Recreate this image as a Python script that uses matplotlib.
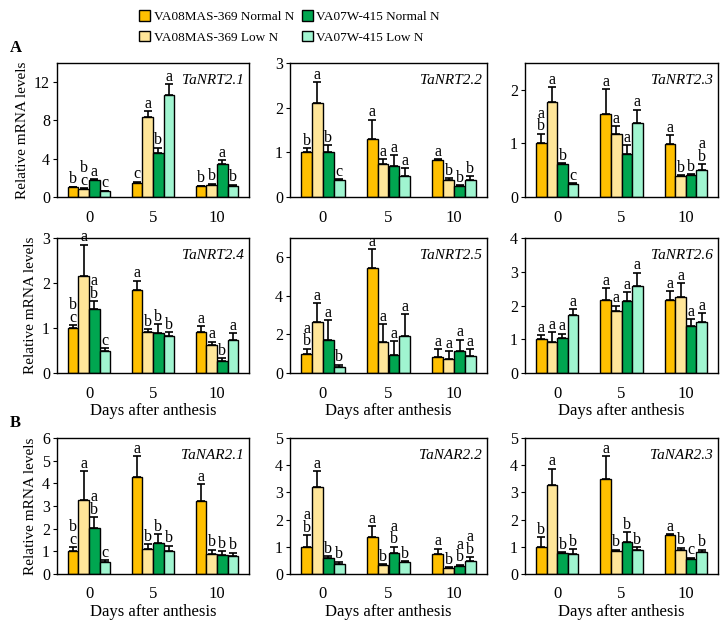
import matplotlib.pyplot as plt
import numpy as np
from matplotlib.patches import Patch

plt.rcParams['font.family'] = ['Liberation Serif', 'DejaVu Serif']
plt.rcParams['font.size'] = 11

days = ['0', '5', '10']
series = ['VA08MAS-369 Normal N', 'VA08MAS-369 Low N', 'VA07W-415 Normal N', 'VA07W-415 Low N']
colors = ['#FFC000', '#FFE699', '#00A650', '#A0F5D0']

genes = ['TaNRT2.1', 'TaNRT2.2', 'TaNRT2.3', 'TaNRT2.4', 'TaNRT2.5', 'TaNRT2.6',
         'TaNAR2.1', 'TaNAR2.2', 'TaNAR2.3']
ylims = [14, 3, 2.5, 3, 7, 4, 6, 5, 5]
yticks = [[0, 4, 8, 12], [0, 1, 2, 3], [0, 1, 2], [0, 1, 2, 3], [0, 2, 4, 6],
          [0, 1, 2, 3, 4], [0, 1, 2, 3, 4, 5, 6], [0, 1, 2, 3, 4, 5], [0, 1, 2, 3, 4, 5]]

# values per gene: rows = series (4), columns = days (0, 5, 10)
means = [
    [[1.0, 1.5, 1.1], [0.88, 8.4, 1.3], [1.75, 4.6, 3.5], [0.6, 10.7, 1.2]],
    [[1.0, 1.3, 0.82], [2.1, 0.75, 0.38], [1.0, 0.7, 0.24], [0.37, 0.48, 0.39]],
    [[1.0, 1.54, 0.99], [1.77, 1.18, 0.4], [0.61, 0.8, 0.41], [0.24, 1.38, 0.5]],
    [[1.0, 1.85, 0.92], [2.15, 0.91, 0.63], [1.43, 0.89, 0.27], [0.5, 0.83, 0.73]],
    [[1.0, 5.43, 0.85], [2.63, 1.6, 0.75], [1.7, 0.95, 1.13], [0.33, 1.92, 0.86]],
    [[1.0, 2.15, 2.17], [0.93, 1.83, 2.25], [1.03, 2.13, 1.4], [1.72, 2.57, 1.5]],
    [[1.0, 4.3, 3.23], [3.28, 1.1, 0.88], [2.02, 1.37, 0.85], [0.55, 1.03, 0.78]],
    [[1.0, 1.37, 0.75], [3.2, 0.33, 0.22], [0.58, 0.77, 0.31], [0.35, 0.45, 0.47]],
    [[1.0, 3.48, 1.42], [3.27, 0.86, 0.88], [0.78, 1.18, 0.55], [0.74, 0.9, 0.8]],
]
errs = [
    [[0.08, 0.1, 0.1], [0.06, 0.55, 0.1], [0.1, 0.55, 0.35], [0.05, 1.1, 0.08]],
    [[0.1, 0.43, 0.03], [0.47, 0.1, 0.04], [0.16, 0.23, 0.02], [0.03, 0.16, 0.08]],
    [[0.18, 0.47, 0.17], [0.28, 0.14, 0.01], [0.02, 0.17, 0.01], [0.02, 0.25, 0.11]],
    [[0.06, 0.2, 0.12], [0.7, 0.07, 0.07], [0.17, 0.2, 0.06], [0.05, 0.08, 0.15]],
    [[0.27, 1.0, 0.37], [1.0, 0.95, 0.37], [1.03, 0.7, 0.6], [0.1, 1.12, 0.38]],
    [[0.12, 0.37, 0.26], [0.28, 0.17, 0.42], [0.14, 0.26, 0.2], [0.17, 0.4, 0.27]],
    [[0.18, 0.9, 0.74], [1.25, 0.23, 0.2], [0.5, 0.4, 0.15], [0.05, 0.22, 0.16]],
    [[0.43, 0.38, 0.18], [0.57, 0.03, 0.03], [0.08, 0.23, 0.03], [0.1, 0.02, 0.15]],
    [[0.35, 0.86, 0.05], [0.6, 0.03, 0.09], [0.03, 0.35, 0.05], [0.18, 0.08, 0.1]],
]
letters = [
    [['b', 'c', 'b'], ['bc', 'a', 'b'], ['a', 'b', 'a'], ['c', 'a', 'b']],
    [['b', 'a', 'a'], ['a', 'a', 'b'], ['b', 'a', 'b'], ['c', 'a', 'b']],
    [['ab', 'a', 'a'], ['a', 'a', 'b'], ['b', 'a', 'b'], ['c', 'a', 'ab']],
    [['bc', 'a', 'a'], ['a', 'b', 'a'], ['ab', 'b', 'b'], ['c', 'b', 'a']],
    [['ab', 'a', 'a'], ['a', 'a', 'a'], ['a', 'a', 'a'], ['b', 'a', 'a']],
    [['a', 'a', 'a'], ['a', 'a', 'a'], ['a', 'a', 'a'], ['a', 'a', 'a']],
    [['bc', 'a', 'a'], ['a', 'b', 'b'], ['ab', 'b', 'b'], ['c', 'b', 'b']],
    [['ab', 'a', 'a'], ['a', 'b', 'b'], ['b', 'ab', 'ab'], ['b', 'b', 'ab']],
    [['b', 'a', 'a'], ['a', 'b', 'b'], ['b', 'b', 'c'], ['b', 'b', 'b']],
]

fig = plt.figure(figsize=(7.27, 6.24), dpi=100)

W, H = 727, 624
col_px = [(57, 249), (290, 487), (525, 718)]
row_px = [(63, 197), (238, 373), (438, 574)]

x = np.arange(len(days))
bw = 0.165

for k in range(9):
    r, c = divmod(k, 3)
    l, rr = col_px[c]
    t, b = row_px[r]
    ax = fig.add_axes([l / W, 1 - b / H, (rr - l) / W, (b - t) / H])
    for s in range(4):
        pos = x + (s - 1.5) * bw
        m = np.array(means[k][s])
        e = np.array(errs[k][s])
        ax.bar(pos, m, bw, color=colors[s], edgecolor='black', linewidth=1.0, zorder=2)
        ax.errorbar(pos, m, yerr=[np.zeros(3), e], fmt='none', ecolor='black',
                    elinewidth=1.2, capsize=3, capthick=1.2, zorder=3)
        for i in range(3):
            lab = '\n'.join(list(letters[k][s][i]))
            ax.annotate(lab, (pos[i], m[i] + e[i]), xytext=(0, -0.5), textcoords='offset points',
                        ha='center', va='bottom', fontsize=11.5, linespacing=0.72, zorder=4,
                        annotation_clip=False)
    ax.set_xlim(-0.5, 2.5)
    ax.set_ylim(0, ylims[k])
    ax.set_yticks(yticks[k])
    ax.set_xticks(x)
    ax.set_xticklabels(days)
    ax.tick_params(axis='x', length=0, labelsize=12, pad=9)
    ax.tick_params(axis='y', length=3, labelsize=11.5, pad=2)
    for sp in ax.spines.values():
        sp.set_linewidth(1.0)
    ax.text(0.975, 0.87, genes[k], transform=ax.transAxes, ha='right', va='center',
            style='italic', fontsize=11)
    if c == 0:
        ax.set_ylabel('Relative mRNA levels', fontsize=11, labelpad=4)
    if r > 0:
        ax.set_xlabel('Days after anthesis', fontsize=12, labelpad=1)

fig.text(10 / W, 1 - 48 / H, 'A', fontsize=12, fontweight='bold', va='center', ha='left')
fig.text(10 / W, 1 - 423 / H, 'B', fontsize=12, fontweight='bold', va='center', ha='left')

handles = [Patch(facecolor=colors[s], edgecolor='black', linewidth=1.0, label=series[s]) for s in range(4)]
fig.legend(handles=handles, ncol=2, loc='upper left', bbox_to_anchor=(139 / W, 1 - 10 / H),
           frameon=False, fontsize=9.5, handlelength=0.85, handleheight=0.85,
           handletextpad=0.25, columnspacing=0.6, labelspacing=0.6, borderpad=0, borderaxespad=0)

fig.savefig('out.png', dpi=100)
